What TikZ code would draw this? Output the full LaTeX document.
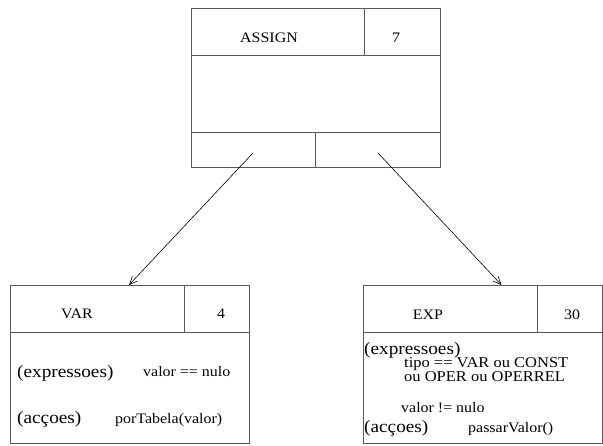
\documentclass[tikz,border=0pt]{standalone}
\usepackage{fontspec}
\setmainfont{Liberation Serif}[FakeStretch=1.1]
\usetikzlibrary{arrows.meta}
\begin{document}
\begin{tikzpicture}[x=1pt,y=-1pt,
  frame/.style={draw=black!65, line width=0.9pt, rectangle, inner sep=0pt, anchor=north west},
  sep/.style={draw=black!65, line width=0.9pt},
  conn/.style={draw=black, line width=0.6pt, -{Straight Barb[length=8pt,width=7pt]}},
  head/.style={inner sep=0pt, anchor=base, font=\fontsize{14.5}{14.5}\selectfont},
  lab/.style={inner sep=0pt, anchor=base west, font=\fontsize{17.5}{17.5}\selectfont},
  txt/.style={inner sep=0pt, anchor=base west, font=\fontsize{14.5}{14.5}\selectfont},
  tighttxt/.style={inner sep=0pt, anchor=base west, font=\fontsize{15}{15}\selectfont}]
\useasboundingbox (0,0) rectangle (603,445);

% top box
\node[frame, minimum width=249pt, minimum height=159pt] (assign) at (190.5,8) {};
\draw[sep] ([yshift=-47.5pt]assign.north west) -- ([yshift=-47.5pt]assign.north east);
\draw[sep] ([xshift=173.5pt]assign.north west) -- ([xshift=173.5pt,yshift=-47.5pt]assign.north west);
\draw[sep] ([yshift=-124.5pt]assign.north west) -- ([yshift=-124.5pt]assign.north east);
\draw[sep] ([xshift=125pt,yshift=-124.5pt]assign.north west) -- ([xshift=125pt]assign.south west);
\node[head] (assignname) at (269,42) {ASSIGN};
\node[head] (assignnum) at (396,42) {7};

% left box
\node[frame, minimum width=239pt, minimum height=158pt] (var) at (10,285) {};
\draw[sep] ([yshift=-47pt]var.north west) -- ([yshift=-47pt]var.north east);
\draw[sep] ([xshift=174pt]var.north west) -- ([xshift=174pt,yshift=-47pt]var.north west);
\node[head] (varname) at (77,318) {VAR};
\node[head] (varnum) at (221,318) {4};
\node[lab] (varexp) at (17,377) {(expressoes)};
\node[txt] (varcond) at (143,376) {valor == nulo};
\node[lab] (varacc) at (17,423) {(acçoes)};
\node[txt] (varact) at (115,423) {porTabela(valor)};

% right box
\node[frame, minimum width=239pt, minimum height=158pt] (exp) at (363,285) {};
\draw[sep] ([yshift=-47.5pt]exp.north west) -- ([yshift=-47.5pt]exp.north east);
\draw[sep] ([xshift=174pt]exp.north west) -- ([xshift=174pt,yshift=-47.5pt]exp.north west);
\node[head] (expname) at (428,319) {EXP};
\node[head] (expnum) at (572,319) {30};
\node[lab] (expexp) at (364,354) {(expressoes)};
\node[tighttxt] (expcond1) at (404,367.5) {tipo == VAR ou CONST};
\node[tighttxt] (expcond2) at (404,381) {ou OPER ou OPERREL};
\node[txt] (expcond3) at (401,412) {valor != nulo};
\node[lab] (expacc) at (364,432) {(acçoes)};
\node[txt] (expact) at (468,432) {passarValor()};

% connectors
\coordinate (s1) at (253,153);
\coordinate (t1) at (129,285);
\coordinate (s2) at (378,153);
\coordinate (t2) at (501.5,285);
\draw[conn] (s1) -- (t1);
\draw[conn] (s2) -- (t2);
\end{tikzpicture}
\end{document}
